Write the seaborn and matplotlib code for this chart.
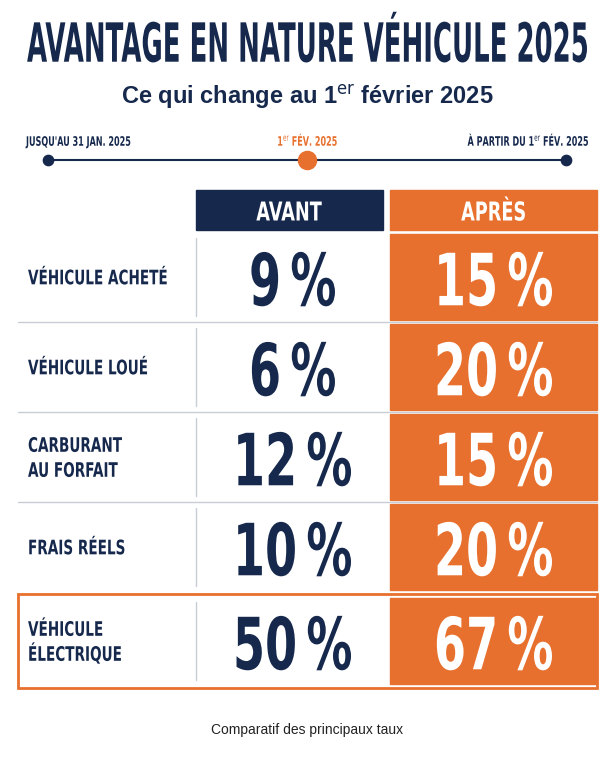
import matplotlib.pyplot as plt
import seaborn as sns
from matplotlib.patches import Rectangle, PathPatch
from matplotlib.textpath import TextPath
from matplotlib.font_manager import FontProperties
from matplotlib.transforms import Affine2D

sns.set_theme(style="white")

NAVY = "#16294d"
ORANGE = "#e8702e"

categories = ["VÉHICULE ACHETÉ", "VÉHICULE LOUÉ", "CARBURANT\nAU FORFAIT", "FRAIS RÉELS", "VÉHICULE\nÉLECTRIQUE"]
avant = [9, 6, 12, 10, 50]
apres = [15, 20, 15, 20, 67]
columns = ["AVANT", "APRÈS"]
timeline = ["JUSQU'AU 31 JAN. 2025", "1$^{\\mathrm{er}}$ FÉV. 2025", "À PARTIR DU 1$^{\\mathrm{er}}$ FÉV. 2025"]

plt.rcParams['font.family'] = ['Liberation Sans', 'DejaVu Sans']
BOLD = FontProperties(family="DejaVu Sans", weight="bold")


def ctext(ax, x, y, s, em, color, ha="left", sx=0.7, width=None, lsp=1.25):
    """Condensed bold text drawn as a path (pixel coords, y down)."""
    lines = s.split("\n")
    n = len(lines)
    for k, line in enumerate(lines):
        tp = TextPath((0, 0), line, size=1, prop=BOLD)
        ext = tp.get_extents()
        w = ext.x1
        fx = sx if width is None else width / (w * em)
        wpx = w * em * fx
        x0 = {"left": x, "center": x - wpx / 2, "right": x - wpx}[ha]
        yc = y + (k - (n - 1) / 2) * em * lsp
        tr = Affine2D().scale(em * fx, -em).translate(x0, yc + 0.365 * em)
        ax.add_patch(PathPatch(tr.transform_path(tp), color=color, lw=0))


fig = plt.figure(figsize=(6.14, 7.68), dpi=100)
ax = fig.add_axes([0, 0, 1, 1])
ax.set_xlim(0, 614)
ax.set_ylim(768, 0)
ax.axis("off")
fig.patch.set_facecolor("white")

ctext(ax, 307, 42, "AVANTAGE EN NATURE VÉHICULE 2025", 54, NAVY, ha="center", width=560)
ax.text(307, 97, "Ce qui change au 1$^{\\mathrm{er}}$ février 2025", weight="bold",
        fontsize=17, color=NAVY, ha="center", va="center")

# timeline
xs = [48, 307, 566]
ax.plot([xs[0], xs[-1]], [160, 160], color=NAVY, lw=1.5, zorder=1)
for i, (x, lab) in enumerate(zip(xs, timeline)):
    ha = ["left", "center", "right"][i]
    tx = [26, 307, 588][i]
    col = ORANGE if i == 1 else NAVY
    ctext(ax, tx, 141, lab, 13, col, ha=ha, sx=0.62)
    ax.scatter([x], [160], s=170 if i == 1 else 55, color=col, zorder=2)

# header
ax.add_patch(Rectangle((196, 190), 187, 40, color=NAVY))
ax.add_patch(Rectangle((390, 190), 207, 40, color=ORANGE))
ctext(ax, 289, 211, columns[0], 26, "white", ha="center", sx=0.68)
ctext(ax, 493, 211, columns[1], 26, "white", ha="center", sx=0.68)

tops = [234, 324, 414, 504, 598]
h = 86
for i, (cat, a, b) in enumerate(zip(categories, avant, apres)):
    y0 = tops[i]
    ax.add_patch(Rectangle((390, y0), 207, h, color=ORANGE))
    ax.plot([196, 196], [y0 + 4, y0 + h - 4], color="#c8ccd4", lw=1)
    ctext(ax, 28, y0 + h / 2, cat, 20, NAVY, ha="left", sx=0.68)
    ctext(ax, 292, y0 + h / 2 + 2, f"{a}\u2009%", 72, NAVY, ha="center", sx=0.64)
    ctext(ax, 493, y0 + h / 2 + 2, f"{b}\u2009%", 72, "white", ha="center", sx=0.64)
    if i < 3:
        ax.plot([18, 597], [y0 + h + 2, y0 + h + 2], color="#c8ccd4", lw=1)

# highlight last row
ax.add_patch(Rectangle((18, 594), 579, 94, fill=False, ec=ORANGE, lw=2))

ax.text(307, 730, "Comparatif des principaux taux", fontsize=10, color="#222222", ha="center", va="center")

fig.savefig("out.png", dpi=100)
